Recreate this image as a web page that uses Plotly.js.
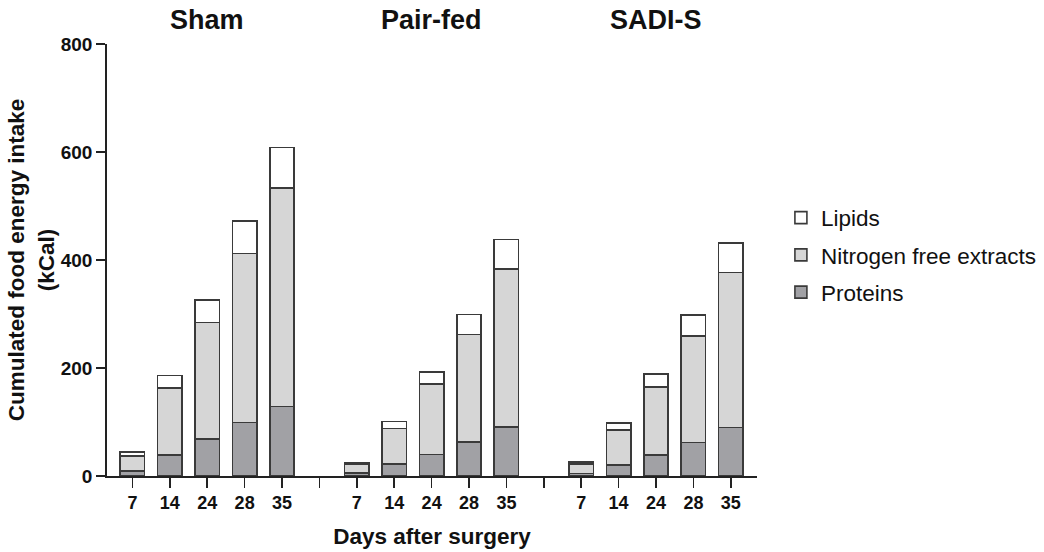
<!DOCTYPE html>
<html>
<head>
<meta charset="utf-8">
<script src="https://cdn.plot.ly/plotly-3.0.1.min.js"></script>
<style>html,body{margin:0;padding:0;background:#fff;}#chart{width:1044px;height:552px;}</style>
</head>
<body>
<div id="chart"></div>
<script>
var groups = ["Sham", "Pair-fed", "SADI-S"];
var days = ["7", "14", "24", "28", "35"];

var proteins = [
  [9, 39, 68, 99, 129],
  [6, 22, 40, 63, 91],
  [5, 20, 39, 62, 90]
];
var nitrogenFree = [
  [28, 124, 216, 313, 404],
  [16, 66, 130, 199, 292],
  [17, 65, 126, 197, 287]
];
var lipids = [
  [7, 23, 42, 60, 75],
  [2, 13, 23, 37, 55],
  [4, 13, 24, 39, 54]
];

var seriesNames = ["Proteins", "Nitrogen free extracts", "Lipids"];
var seriesData = [proteins, nitrogenFree, lipids];
var seriesColors = ["#a1a1a5", "#d6d6d6", "#ffffff"];

var slot = days.length + 1;
var xs = [], tickvals = [], ticktext = [];
groups.forEach(function (g, gi) {
  days.forEach(function (d, di) {
    xs.push(gi * slot + di);
    tickvals.push(gi * slot + di);
    ticktext.push(d);
  });
  if (gi < groups.length - 1) {
    tickvals.push(gi * slot + days.length);
    ticktext.push("");
  }
});

var font = "Arial, 'Liberation Sans', sans-serif";

var traces = seriesNames.map(function (name, si) {
  var y = [];
  seriesData[si].forEach(function (arr) { y = y.concat(arr); });
  return {
    type: "bar",
    name: name,
    x: xs,
    y: y,
    width: 0.65,
    legendgroup: name,
    legendrank: seriesNames.length - si,
    marker: { color: seriesColors[si], line: { color: "#3a3a3a", width: 1.6 } },
    hoverinfo: "name+y"
  };
});

var annotations = groups.map(function (g, gi) {
  return {
    text: g, xref: "x", yref: "paper",
    x: gi * slot + (days.length - 1) / 2, y: 1,
    yanchor: "middle", yshift: 24, showarrow: false,
    font: { family: font, size: 27, color: "#111", weight: "bold" }
  };
});

var layout = {
  width: 1044, height: 552,
  margin: { l: 107, r: 287, t: 44, b: 76, autoexpand: false },
  paper_bgcolor: "#fff", plot_bgcolor: "#fff",
  barmode: "stack",
  showlegend: true,
  legend: {
    xref: "container", yref: "container",
    x: 0.748, xanchor: "left", y: 0.644, yanchor: "top",
    traceorder: "grouped", tracegroupgap: 5,
    font: { family: font, size: 22.5, color: "#111" },
    bgcolor: "rgba(0,0,0,0)"
  },
  xaxis: {
    range: [-0.68, 16.7],
    tickmode: "array", tickvals: tickvals, ticktext: ticktext,
    ticks: "outside", ticklen: 10, tickwidth: 1.5, tickcolor: "#222",
    showline: true, linecolor: "#222", linewidth: 1.8,
    showgrid: false, zeroline: false,
    tickfont: { family: font, size: 18, color: "#111", weight: "bold" },
    title: { text: "Days after surgery", standoff: 16,
      font: { family: font, size: 22.5, color: "#111", weight: "bold" } }
  },
  yaxis: {
    range: [0, 800],
    tickvals: [0, 200, 400, 600, 800],
    ticks: "outside", ticklen: 9, tickwidth: 1.5, tickcolor: "#222",
    showline: true, linecolor: "#222", linewidth: 1.8,
    showgrid: false, zeroline: false,
    tickfont: { family: font, size: 19, color: "#111", weight: "bold" },
    title: { text: "Cumulated food energy intake<br>(kCal)", standoff: 0,
      font: { family: font, size: 22.5, color: "#111", weight: "bold" } }
  },
  annotations: annotations
};

Plotly.newPlot("chart", traces, layout, { displayModeBar: false, staticPlot: true });
</script>
</body>
</html>
